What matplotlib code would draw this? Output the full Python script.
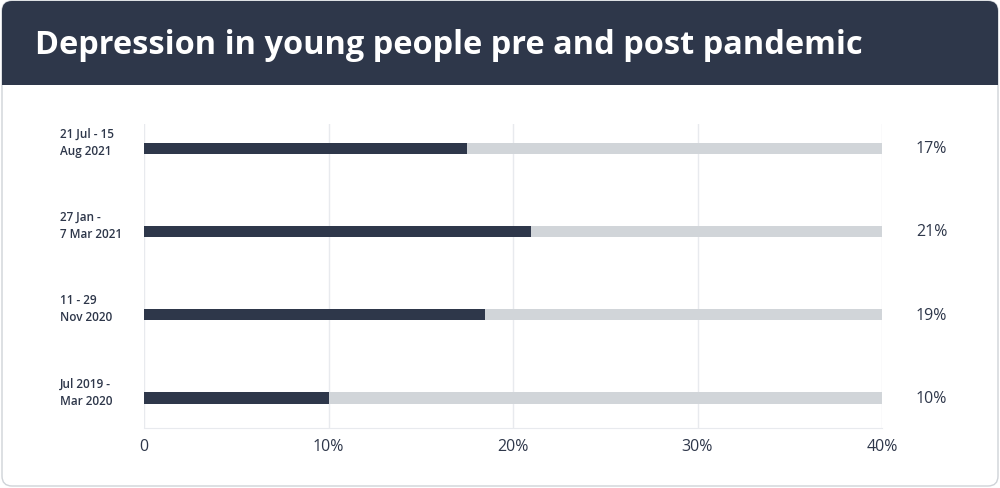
import matplotlib.pyplot as plt
from matplotlib.patches import FancyBboxPatch, Rectangle
from matplotlib.transforms import blended_transform_factory

# data (bottom to top)
periods = ['Jul 2019 -\nMar 2020', '11 - 29\nNov 2020', '27 Jan -\n7 Mar 2021', '21 Jul - 15\nAug 2021']
values = [10.0, 18.5, 21.0, 17.5]
value_labels = ['10%', '19%', '21%', '17%']
track_max = 40
ticks = [0, 10, 20, 30, 40]
tick_labels = ['0', '10%', '20%', '30%', '40%']

navy = '#2e374a'
track = '#d1d5d9'
grid = '#e8eaee'
text_c = '#2e374a'

plt.rcParams['font.family'] = ['Open Sans', 'DejaVu Sans']

fig = plt.figure(figsize=(10, 4.89), dpi=100)
W, H = 1000, 489

# card background + header
bg = fig.add_axes([0, 0, 1, 1])
bg.set_xlim(0, W)
bg.set_ylim(H, 0)
bg.axis('off')
bg.add_patch(FancyBboxPatch((2, 2), W - 4, H - 4, boxstyle='round,pad=0,rounding_size=10',
                            fc='white', ec='#cfd3d8', lw=1))
bg.add_patch(FancyBboxPatch((2, 2), W - 4, 84, boxstyle='round,pad=0,rounding_size=10',
                            fc=navy, ec='none'))
bg.add_patch(Rectangle((2, 60), W - 4, 26, fc=navy, ec='none'))
bg.text(35, 46, 'Depression in young people pre and post pandemic', color='white',
        fontsize=23.4, fontweight='bold', va='center', ha='left')

# chart axes: x 144..882 px, y 125..429 px
ax = fig.add_axes([144 / W, 1 - 429 / H, (882 - 144) / W, (429 - 125) / H])
y = list(range(len(periods)))
ax.barh(y, [track_max] * len(y), height=0.135, color=track, zorder=2)
ax.barh(y, values, height=0.135, color=navy, zorder=3)
ax.set_xlim(0, track_max)
ax.set_ylim(-0.36, 3.29)
ax.set_xticks(ticks)
ax.set_xticklabels(tick_labels, fontsize=11.5, color=text_c)
ax.set_yticks(y)
ax.set_yticklabels([])
ax.tick_params(length=0, pad=7)
ax.grid(axis='x', color=grid, lw=1, zorder=0)
for s in ['top', 'right', 'left']:
    ax.spines[s].set_visible(False)
ax.spines['bottom'].set_color(grid)

# category labels at fixed figure x, value labels right of the track
tr = blended_transform_factory(fig.transFigure, ax.transData)
for yi, lab in zip(y, periods):
    ax.text(60 / W, yi + 0.075, lab, ha='left', va='center', fontsize=8.5, fontweight='semibold',
            color=text_c, linespacing=1.4, transform=tr)
for yi, lab in zip(y, value_labels):
    ax.text(916 / W, yi, lab, ha='left', va='center', fontsize=11.5, color=text_c, transform=tr)

fig.savefig('out.png', dpi=100)
